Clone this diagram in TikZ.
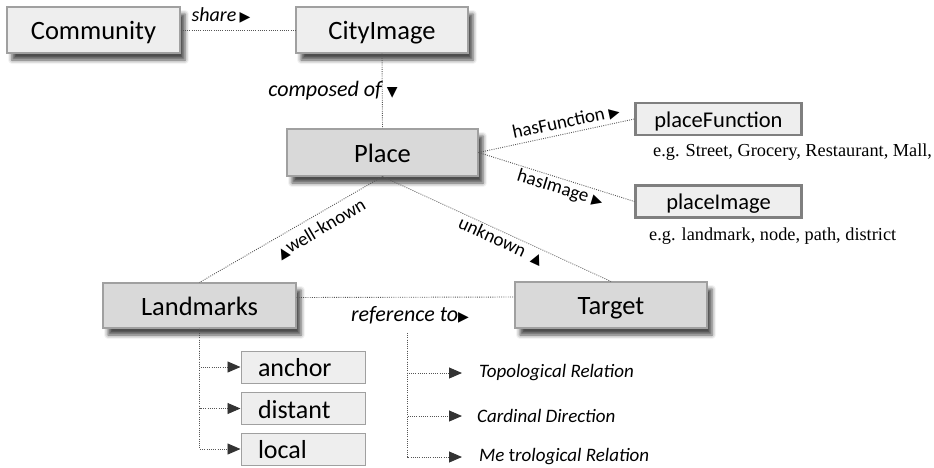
\documentclass[tikz,border=0pt]{standalone}
\usepackage{fontspec}
\setmainfont{Carlito}
\newfontfamily\serifex{Liberation Serif}
\newfontfamily\symf{DejaVu Sans}
\usetikzlibrary{arrows.meta,shadows.blur}
\definecolor{boxA}{HTML}{EEEEEE}
\definecolor{boxB}{HTML}{D9D9D9}
\definecolor{bord}{HTML}{A0A0A0}
\definecolor{attrb}{HTML}{7F7F7F}
\definecolor{conncol}{HTML}{555555}
\definecolor{tipcol}{HTML}{333333}
\newcommand{\tri}[1]{{\symf\fontsize{14}{14}\selectfont #1}}
\tikzset{
  base/.style={draw=bord, line width=1.1pt, inner sep=0pt, text=black,
    font=\fontsize{26.5}{28}\selectfont, text height=20pt, text depth=1pt},
  shad/.style={blur shadow={shadow xshift=5pt, shadow yshift=-7pt,
    shadow blur radius=4pt, shadow opacity=70}},
  light/.style={base, fill=boxA, shad},
  darkbox/.style={base, fill=boxB, shad},
  attr/.style={draw=attrb, line width=2.2pt, fill=boxA, inner sep=0pt,
    minimum width=166pt, minimum height=32pt, font=\fontsize{22.5}{24}\selectfont,
    text height=17.5pt, text depth=1.5pt},
  kind/.style={draw=bord, line width=1pt, fill=boxA, inner xsep=17pt, inner ysep=0pt,
    text width=90pt, align=left, minimum height=32pt, font=\fontsize{26}{28}\selectfont,
    text height=20pt, text depth=1pt},
  conn/.style={draw=conncol, line width=0.9pt, dash pattern=on 0.9pt off 1.3pt},
  tip/.style={-{Triangle[length=13pt,width=11pt,color=tipcol]}},
  lbl/.style={inner sep=0pt, font=\fontsize{19}{20}\selectfont\itshape},
  lblb/.style={inner sep=0pt, font=\fontsize{22}{23}\selectfont\itshape},
  lblu/.style={inner sep=0pt, font=\fontsize{19}{20}\selectfont},
  ex/.style={inner sep=0pt, anchor=west, font=\serifex\fontsize{18.3}{19}\selectfont}
}
\begin{document}
\begin{tikzpicture}[x=1pt,y=-1pt]
\useasboundingbox (0,0) rectangle (934,467);
% boxes
\node[light, minimum width=173pt, minimum height=46pt] (com) at (93.5,30) {Community};
\node[light, minimum width=172pt, minimum height=46pt] (city) at (382,30) {CityImage};
\node[darkbox, minimum width=191pt, minimum height=47pt] (place) at (382.5,152.5) {Place};
\node[attr] (pf) at (718.5,119) {placeFunction};
\node[attr] (pi) at (718.5,201.5) {placeImage};
\node[darkbox, minimum width=193pt, minimum height=45pt] (land) at (199.5,305.5) {Landmarks};
\node[darkbox, minimum width=192pt, minimum height=46pt] (targ) at (611,305) {Target};
\node[kind] (anc) at (303,367) {anchor};
\node[kind] (dis) at (303,408.5) {distant};
\node[kind] (loc) at (303,449) {local};
% example texts
\node[ex] (ex1) at (653,152) {e.g. Street, Grocery, Restaurant, Mall,};
\node[ex] (ex2) at (649,236) {e.g. landmark, node, path, district};
% connectors
\draw[conn] (com.east) -- (city.west);
\draw[conn] (city.south) -- (place.north);
\draw[conn] (place.east) -- (pf.west);
\draw[conn] (place.east) -- (pi.west);
\draw[conn] (place.south) -- (land.north);
\draw[conn] (place.south) -- (targ.north);
\draw[conn] ([yshift=8pt]land.east) -- ([yshift=8pt]targ.west);
\draw[conn,tip] (land.south) |- (anc.west);
\draw[conn,tip] (land.south) |- (dis.west);
\draw[conn,tip] (land.south) |- (loc.west);
% labels
\node[inner sep=0pt, font=\fontsize{20}{21}\selectfont\itshape] (lshare) at (221,15) {share\,\tri{▶}};
\node[lblb] (lcomp) at (333,91) {composed of\ \tri{▼}};
\node[lblu, rotate=12] (lfun) at (566,122) {hasFunction\ \tri{▶}};
\node[lblu, rotate=-17] (limg) at (560,189) {hasImage\ \tri{▶}};
\node[lblu, rotate=30.6] (lwk) at (321,229) {\tri{▲}well-known};
\node[lblu, rotate=-24.7] (lunk) at (501,241) {unknown\ \ \tri{▲}};
\node[lblb] (lref) at (410,315) {reference to\tri{▶}};
% reference tree
\coordinate (rtop) at (407,333);
\node[lbl, anchor=west] (t1) at (479,373) {Topological Relation};
\node[lbl, anchor=west] (t2) at (477,416) {Cardinal Direction};
\node[lbl, anchor=west] (t3) at (479,457) {Me {\upshape t}rological Relation};
\draw[conn,tip,shorten >=17pt] (rtop) |- (t1.west);
\draw[conn,tip,shorten >=15pt] (rtop) |- (t2.west);
\draw[conn,tip,shorten >=17pt] (rtop) |- (t3.west);
\end{tikzpicture}
\end{document}
